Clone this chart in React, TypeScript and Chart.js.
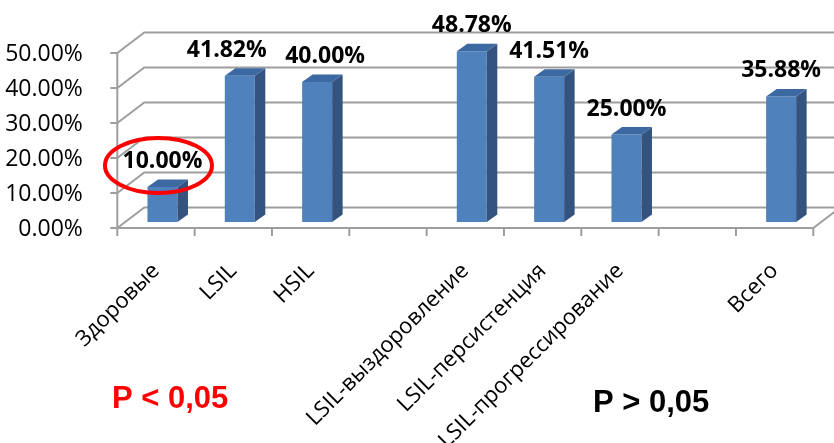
import { useEffect, useRef } from 'react';
import { Chart, registerables } from 'chart.js';

Chart.register(...registerables);

// ---- data ----
const categories = [
  'Здоровые',
  'LSIL',
  'HSIL',
  '',
  'LSIL-выздоровление',
  'LSIL-персистенция',
  'LSIL-прогрессирование',
  '',
  'Всего',
];
const values: (number | null)[] = [10, 41.82, 40, null, 48.78, 41.51, 25, null, 35.88];
const yTickValues = [0, 10, 20, 30, 40, 50];
const pLeftText = 'P < 0,05';
const pRightText = 'P > 0,05';

// ---- geometry / style constants ----
const FRONT_DX = -6.5; // front plane relative to bar plane
const FRONT_DY = 6;
const DEPTH_X = 27; // wall depth
const DEPTH_Y = -20.5;
const BAR_DX = 10.5; // bar depth
const BAR_DY = -7.5;
const labelNudgeX = [0, -13, 8, 0, 0, 0, 0, 0, 0];
const GRID = '#9e9e9e';
const FRONT = '#4f81bd';
const SIDE = '#34547f';
const TOP = '#3d69a2';

const threeD = {
  id: 'threeD',
  beforeDatasetsDraw(chart: any) {
    const { ctx, chartArea, scales } = chart;
    const y = scales.y;
    const x = scales.x;
    const n = categories.length;
    const cw = (chartArea.right - chartArea.left) / n;
    const fx0 = chartArea.left + FRONT_DX;
    const fx1 = chartArea.right + FRONT_DX;
    const fy = (v: number) => y.getPixelForValue(v) + FRONT_DY;
    ctx.save();
    ctx.strokeStyle = GRID;
    ctx.lineWidth = 2;
    ctx.lineCap = 'butt';
    for (const v of yTickValues) {
      ctx.beginPath();
      ctx.moveTo(fx0, fy(v));
      ctx.lineTo(fx0 + DEPTH_X, fy(v) + DEPTH_Y);
      ctx.lineTo(fx1 + DEPTH_X, fy(v) + DEPTH_Y);
      ctx.stroke();
      ctx.beginPath();
      ctx.moveTo(fx0 - 7, fy(v));
      ctx.lineTo(fx0, fy(v));
      ctx.stroke();
    }
    // front vertical axis
    ctx.beginPath();
    ctx.moveTo(fx0, fy(0) + 1);
    ctx.lineTo(fx0, fy(50));
    ctx.stroke();
    // floor
    ctx.beginPath();
    ctx.moveTo(fx0, fy(0));
    ctx.lineTo(fx1, fy(0));
    ctx.lineTo(fx1 + DEPTH_X, fy(0) + DEPTH_Y);
    ctx.stroke();
    // x tick marks at category boundaries
    for (let i = 0; i <= n; i++) {
      const bx = (i < n ? x.getPixelForValue(i) - cw / 2 : x.getPixelForValue(n - 1) + cw / 2) + FRONT_DX;
      ctx.beginPath();
      ctx.moveTo(bx, fy(0));
      ctx.lineTo(bx, fy(0) + 8);
      ctx.stroke();
    }
    ctx.restore();
  },
  afterDatasetsDraw(chart: any) {
    const { ctx } = chart;
    const meta = chart.getDatasetMeta(0);
    ctx.save();
    meta.data.forEach((el: any, i: number) => {
      const v = values[i];
      if (v == null) return;
      const { x: cx, y: top, base, width } = el.getProps(['x', 'y', 'base', 'width'], true);
      const l = cx - width / 2;
      const r = cx + width / 2;
      // side
      ctx.fillStyle = SIDE;
      ctx.beginPath();
      ctx.moveTo(r, top);
      ctx.lineTo(r + BAR_DX, top + BAR_DY);
      ctx.lineTo(r + BAR_DX, base + BAR_DY);
      ctx.lineTo(r, base);
      ctx.closePath();
      ctx.fill();
      // top
      ctx.fillStyle = TOP;
      ctx.beginPath();
      ctx.moveTo(l, top);
      ctx.lineTo(l + BAR_DX, top + BAR_DY);
      ctx.lineTo(r + BAR_DX, top + BAR_DY);
      ctx.lineTo(r, top);
      ctx.closePath();
      ctx.fill();
    });
    // value labels
    ctx.fillStyle = '#000';
    ctx.font = 'bold 23px "Open Sans"';
    ctx.textAlign = 'center';
    ctx.textBaseline = 'alphabetic';
    meta.data.forEach((el: any, i: number) => {
      const v = values[i];
      if (v == null) return;
      ctx.fillText(v.toFixed(2) + '%', el.x + labelNudgeX[i], el.y - 19);
    });
    // red ellipse around first label
    const first = meta.data[0];
    ctx.strokeStyle = '#ff0000';
    ctx.lineWidth = 4;
    ctx.beginPath();
    ctx.ellipse(first.x - 4, first.y - 21.5, 53.5, 27.5, 0, 0, Math.PI * 2);
    ctx.stroke();
    ctx.restore();
  },
  afterDraw(chart: any) {
    const { ctx } = chart;
    ctx.save();
    ctx.font = 'bold 31px "Liberation Sans"';
    ctx.textAlign = 'left';
    ctx.textBaseline = 'alphabetic';
    ctx.fillStyle = '#ff0000';
    ctx.fillText(pLeftText, 112, 408);
    ctx.fillStyle = '#000000';
    ctx.fillText(pRightText, 593, 412);
    ctx.restore();
  },
};

export default function App() {
  const ref = useRef<HTMLCanvasElement>(null);
  useEffect(() => {
    if (!ref.current) return;
    const chart = new Chart(ref.current, {
      type: 'bar',
      data: {
        labels: categories,
        datasets: [
          {
            data: values,
            backgroundColor: FRONT,
            borderWidth: 0,
            barPercentage: 0.388,
            categoryPercentage: 1,
          },
        ],
      },
      options: {
        responsive: false,
        animation: false,
        layout: { padding: { left: 0, right: 14.2, top: 47, bottom: 0 } },
        plugins: { legend: { display: false }, tooltip: { enabled: false } },
        scales: {
          x: {
            grid: { display: false },
            border: { display: false },
            ticks: {
              autoSkip: false,
              minRotation: 45,
              maxRotation: 45,
              labelOffset: -6.5,
              padding: 28,
              color: '#000',
              font: { family: '"Open Sans"', size: 22 },
            },
            afterFit: (s: any) => {
              s.height = 221;
            },
          },
          y: {
            min: 0,
            max: 50,
            grid: { display: false },
            border: { display: false },
            ticks: {
              stepSize: 10,
              labelOffset: 7,
              padding: 33,
              color: '#000',
              font: { family: '"Open Sans"', size: 23 },
              callback: (v: any) => Number(v).toFixed(2) + '%',
            },
            afterFit: (s: any) => {
              s.width = 123.8;
            },
          },
        },
      },
      plugins: [threeD],
    });
    return () => chart.destroy();
  }, []);
  return (
    <div style={{ position: 'fixed', left: 0, top: 0, width: 834, height: 443, background: '#fff' }}>
      <canvas ref={ref} width={834} height={443} />
    </div>
  );
}
